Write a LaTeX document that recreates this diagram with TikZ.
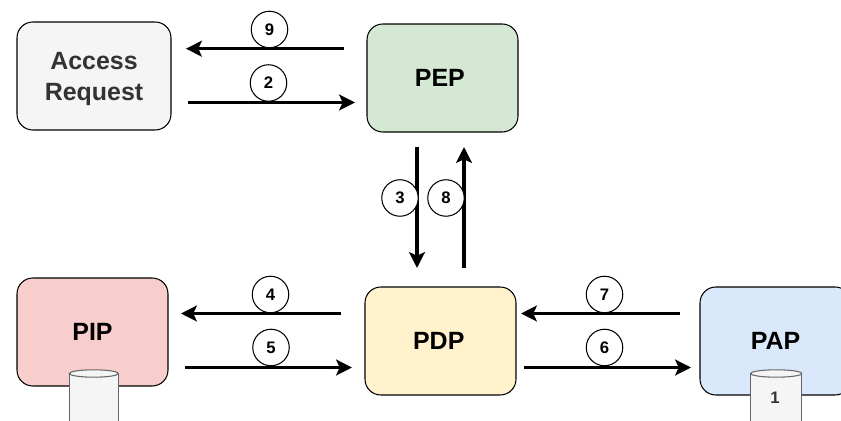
\documentclass[tikz,border=0pt]{standalone}
\usepackage{fontspec}
\setmainfont{Liberation Sans}
\usetikzlibrary{arrows.meta}
\definecolor{accessfill}{HTML}{F5F5F5}
\definecolor{accesstext}{HTML}{333333}
\definecolor{pepfill}{HTML}{D5E8D4}
\definecolor{pipfill}{HTML}{F8CECC}
\definecolor{pdpfill}{HTML}{FFF2CC}
\definecolor{papfill}{HTML}{DAE8FC}
\definecolor{storeline}{HTML}{666666}
\tikzset{
  entity/.style={draw=black,line width=0.6pt,rounded corners=9pt,minimum width=3.02cm,minimum height=2.16cm,align=center,inner sep=0pt,font=\fontsize{14.2}{17.5}\selectfont\bfseries},
  flow/.style={line width=1.8pt,-{Stealth[length=9pt,width=9pt,inset=2pt]}},
  badge/.style={draw=black,fill=white,line width=0.6pt,circle,minimum size=0.73cm,inner sep=0pt,font=\fontsize{9.5}{11}\selectfont\bfseries},
  store/.style={draw=storeline,fill=accessfill,line width=0.6pt},
}
\begin{document}
\begin{tikzpicture}[x=0.02cm,y=-0.02cm]
\useasboundingbox (0,0) rectangle (841,421);
\clip (0,0) rectangle (841,421);
\node[entity,fill=accessfill,text=accesstext,minimum width=3.08cm] (access) at (94,76) {\rule{0pt}{13.6pt}Access\\Request};
\node[entity,fill=pepfill] (pep) at (442.5,78) {\hspace{-3pt}PEP};
\node[entity,fill=pipfill] (pip) at (92.5,332) {PIP};
\node[entity,fill=pdpfill] (pdp) at (440.5,341) {\hspace{-2pt}PDP};
\node[entity,fill=papfill] (pap) at (775.5,341) {PAP};
% stores
\draw[store] (69.3,373.5) -- (69.3,430) -- (118.3,430) -- (118.3,373.5);
\draw[store] (93.8,373.5) ellipse [x radius=24.5,y radius=3.7];
\draw[store] (750.7,373.5) -- (750.7,430) -- (801.7,430) -- (801.7,373.5);
\draw[store] (776.2,373.5) ellipse [x radius=25.5,y radius=3.7];
\node[text=accesstext,font=\fontsize{9.5}{11}\selectfont\bfseries] (papstore) at (775,398) {1};
\coordinate (f9a) at (344,48.7);
\coordinate (f9b) at (186,48.7);
\coordinate (f2a) at (188,102.5);
\coordinate (f2b) at (355,102.5);
\coordinate (f3a) at (417,147);
\coordinate (f3b) at (417,268);
\coordinate (f8a) at (464,268);
\coordinate (f8b) at (464,147);
\coordinate (f4a) at (341,313.5);
\coordinate (f4b) at (181,313.5);
\coordinate (f5a) at (185,367.5);
\coordinate (f5b) at (352,367.5);
\coordinate (f7a) at (680,313.5);
\coordinate (f7b) at (521,313.5);
\coordinate (f6a) at (524,367.5);
\coordinate (f6b) at (691,367.5);
\draw[flow] (f9a) -- (f9b);
\draw[flow] (f2a) -- (f2b);
\draw[flow] (f3a) -- (f3b);
\draw[flow] (f8a) -- (f8b);
\draw[flow] (f4a) -- (f4b);
\draw[flow] (f5a) -- (f5b);
\draw[flow] (f7a) -- (f7b);
\draw[flow] (f6a) -- (f6b);
\node[badge] (n9) at (269.5,29.5) {9};
\node[badge] (n2) at (268.5,83) {2};
\node[badge] (n3) at (400,198) {3};
\node[badge] (n8) at (446,198) {8};
\node[badge] (n4) at (270.5,294.5) {4};
\node[badge] (n5) at (271,347.5) {5};
\node[badge] (n7) at (604.5,294.5) {7};
\node[badge] (n6) at (604.5,347.5) {6};
\end{tikzpicture}
\end{document}
